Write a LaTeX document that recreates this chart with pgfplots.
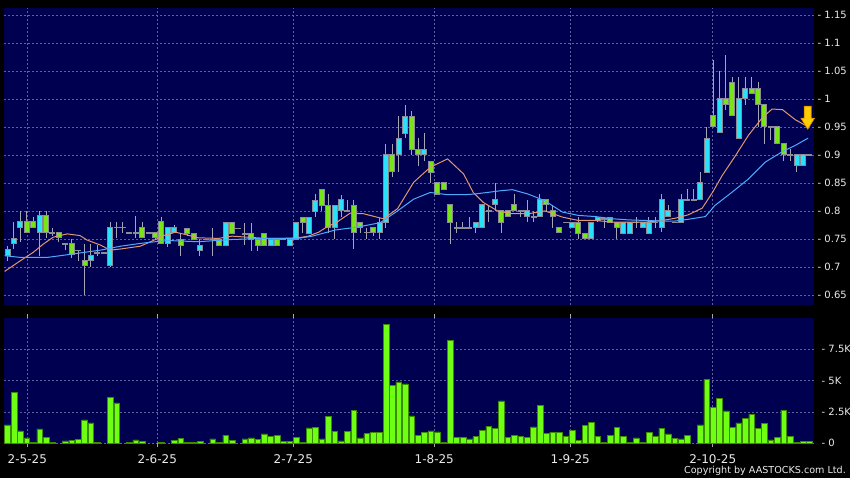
\documentclass[border=0pt]{standalone}
\usepackage{fontspec}
\setmainfont{DejaVu Sans}
\usepackage{pgfplots}
\usepackage{pgfplotstable}
\pgfplotsset{compat=1.18}
\definecolor{navybg}{RGB}{0,0,80}
\definecolor{gridc}{RGB}{95,95,155}
\definecolor{upc}{RGB}{40,225,250}
\definecolor{downc}{RGB}{120,230,20}
\definecolor{outl}{RGB}{140,140,150}
\definecolor{wick}{RGB}{165,165,180}
\definecolor{volc}{RGB}{110,255,20}
\definecolor{vold}{RGB}{60,140,0}
\definecolor{maorange}{RGB}{225,150,110}
\definecolor{mablue}{RGB}{80,170,250}
\definecolor{arrowy}{RGB}{255,205,0}
\definecolor{arrowo}{RGB}{220,140,0}
\definecolor{labc}{RGB}{235,235,235}

\pgfdeclareplotmark{dnarrow}{%
  \pgfpathmoveto{\pgfpoint{0pt}{0pt}}%
  \pgfpathlineto{\pgfpoint{6.8pt}{11pt}}%
  \pgfpathlineto{\pgfpoint{3.5pt}{11pt}}%
  \pgfpathlineto{\pgfpoint{3.5pt}{23pt}}%
  \pgfpathlineto{\pgfpoint{-3.5pt}{23pt}}%
  \pgfpathlineto{\pgfpoint{-3.5pt}{11pt}}%
  \pgfpathlineto{\pgfpoint{-6.8pt}{11pt}}%
  \pgfpathclose
  \pgfusepathqfillstroke
}

% up candles (close > open)
\pgfplotstableread{
i o h l c
0 0.721 0.738 0.710 0.732
1 0.741 0.780 0.732 0.751
2 0.771 0.800 0.745 0.781
5 0.761 0.800 0.720 0.791
13 0.711 0.741 0.700 0.721
16 0.702 0.780 0.700 0.771
25 0.741 0.771 0.735 0.771
26 0.761 0.775 0.760 0.771
30 0.729 0.749 0.719 0.739
34 0.739 0.779 0.739 0.779
41 0.739 0.749 0.739 0.749
44 0.739 0.749 0.739 0.749
45 0.749 0.779 0.749 0.779
47 0.760 0.789 0.760 0.789
48 0.799 0.830 0.789 0.819
51 0.771 0.810 0.750 0.810
52 0.800 0.828 0.790 0.820
58 0.761 0.787 0.750 0.780
59 0.780 0.920 0.770 0.900
61 0.900 0.970 0.870 0.930
62 0.939 0.989 0.930 0.969
65 0.900 0.940 0.890 0.910
73 0.770 0.780 0.760 0.780
74 0.770 0.811 0.770 0.811
76 0.811 0.850 0.800 0.820
81 0.790 0.820 0.780 0.800
83 0.790 0.830 0.790 0.820
88 0.770 0.780 0.770 0.780
91 0.750 0.780 0.750 0.780
92 0.783 0.790 0.780 0.789
96 0.760 0.780 0.760 0.780
97 0.760 0.780 0.760 0.780
99 0.770 0.780 0.770 0.780
100 0.760 0.790 0.760 0.780
102 0.771 0.830 0.762 0.820
103 0.790 0.810 0.790 0.800
105 0.780 0.830 0.780 0.820
108 0.820 0.870 0.820 0.850
109 0.869 0.950 0.869 0.930
111 0.940 1.050 0.940 1.000
114 0.930 1.040 0.930 1.000
115 1.000 1.040 0.990 1.019
123 0.881 0.900 0.870 0.900
124 0.881 0.900 0.881 0.900
}\up

% down candles (close < open)
\pgfplotstableread{
i o h l c
3 0.781 0.800 0.760 0.761
4 0.781 0.790 0.771 0.771
6 0.791 0.800 0.752 0.761
8 0.761 0.761 0.745 0.752
10 0.741 0.750 0.716 0.722
12 0.711 0.741 0.650 0.702
21 0.771 0.780 0.752 0.752
23 0.761 0.761 0.750 0.752
24 0.781 0.790 0.741 0.741
27 0.749 0.760 0.720 0.739
28 0.769 0.769 0.755 0.760
29 0.759 0.760 0.749 0.749
33 0.749 0.749 0.739 0.739
35 0.779 0.779 0.760 0.760
38 0.759 0.779 0.729 0.749
39 0.749 0.749 0.729 0.739
40 0.759 0.759 0.739 0.739
42 0.749 0.749 0.739 0.739
46 0.789 0.789 0.760 0.779
49 0.839 0.839 0.800 0.810
50 0.810 0.830 0.760 0.770
54 0.810 0.820 0.732 0.762
55 0.780 0.780 0.760 0.770
57 0.770 0.770 0.755 0.761
60 0.900 0.920 0.860 0.870
63 0.969 0.979 0.900 0.910
64 0.910 0.930 0.880 0.900
66 0.888 0.890 0.850 0.869
67 0.850 0.850 0.830 0.830
68 0.850 0.850 0.839 0.839
69 0.811 0.811 0.741 0.780
77 0.800 0.800 0.760 0.780
78 0.800 0.800 0.790 0.790
79 0.811 0.830 0.800 0.800
84 0.820 0.820 0.800 0.811
85 0.800 0.810 0.770 0.790
86 0.770 0.770 0.761 0.761
89 0.780 0.790 0.750 0.760
90 0.760 0.760 0.750 0.750
94 0.789 0.790 0.780 0.780
95 0.780 0.780 0.750 0.770
110 0.970 1.070 0.950 0.950
112 1.000 1.078 0.980 0.990
113 1.029 1.040 0.970 0.970
116 1.019 1.040 1.010 1.010
117 1.019 1.030 0.950 0.990
118 0.990 0.990 0.920 0.950
120 0.950 0.950 0.920 0.920
121 0.920 0.920 0.890 0.900
}\down

% flat candles (close = open)
\pgfplotstableread{
i o h l c
7 0.761 0.770 0.755 0.761
9 0.741 0.741 0.730 0.741
11 0.730 0.730 0.710 0.730
14 0.725 0.740 0.720 0.725
15 0.725 0.725 0.725 0.725
17 0.771 0.780 0.752 0.771
18 0.771 0.780 0.760 0.771
19 0.761 0.761 0.761 0.761
20 0.761 0.791 0.752 0.761
22 0.761 0.761 0.761 0.761
31 0.749 0.749 0.749 0.749
32 0.749 0.769 0.719 0.749
36 0.769 0.769 0.769 0.769
37 0.759 0.779 0.739 0.759
43 0.749 0.749 0.749 0.749
53 0.800 0.820 0.800 0.800
56 0.762 0.770 0.750 0.762
70 0.770 0.780 0.760 0.770
71 0.770 0.780 0.770 0.770
72 0.770 0.790 0.770 0.770
75 0.800 0.811 0.780 0.800
80 0.800 0.800 0.790 0.800
82 0.790 0.800 0.780 0.790
87 0.780 0.780 0.780 0.780
93 0.786 0.790 0.770 0.786
98 0.780 0.790 0.770 0.780
101 0.780 0.790 0.770 0.780
104 0.780 0.780 0.780 0.780
106 0.820 0.840 0.820 0.820
107 0.820 0.840 0.820 0.820
119 0.950 0.950 0.927 0.950
122 0.900 0.910 0.890 0.900
125 0.900 0.900 0.900 0.900
}\flat

% volume in thousands
\pgfplotstableread{
i v
0 1.46
1 4.04
2 0.98
3 0.43
4 0.08
5 1.14
6 0.50
7 0.08
9 0.19
10 0.21
11 0.32
12 1.86
13 1.62
14 0.08
16 3.64
17 3.22
19 0.05
20 0.27
21 0.13
24 0.05
26 0.21
27 0.37
28 0.08
29 0.08
30 0.16
32 0.35
33 0.10
34 0.66
35 0.24
37 0.35
38 0.43
39 0.29
40 0.74
41 0.53
42 0.64
43 0.16
44 0.13
45 0.50
46 0.10
47 1.22
48 1.28
49 0.35
50 2.15
51 0.96
52 0.19
53 0.96
54 2.63
55 0.43
56 0.77
57 0.88
58 0.85
59 9.44
60 4.63
61 4.89
62 4.73
63 2.18
64 0.64
65 0.85
66 0.98
67 0.90
68 0.10
69 8.16
70 0.50
71 0.48
72 0.35
73 0.53
74 1.01
75 1.36
76 1.17
77 3.38
78 0.48
79 0.61
80 0.58
81 0.50
82 1.30
83 3.03
84 0.77
85 0.88
86 0.85
87 0.58
88 1.01
89 0.24
90 1.44
91 1.68
92 0.53
93 0.05
94 0.66
95 1.28
96 0.53
97 0.08
98 0.43
99 0.05
100 0.88
101 0.58
102 1.20
103 0.74
104 0.40
105 0.35
106 0.64
108 1.46
109 5.08
110 2.87
111 3.59
112 2.58
113 1.28
114 1.63
115 1.97
116 2.31
117 1.17
118 1.57
119 0.27
120 0.45
121 2.63
122 0.56
123 0.08
124 0.16
125 0.16
}\vol

\pgfplotsset{
  wicks/.style={draw=none, mark=none, forget plot,
    error bars/.cd, y dir=both, y explicit, error mark=none,
    error bar style={draw=wick, line width=1pt}},
  bodyout/.style={draw=none, mark=none, forget plot,
    error bars/.cd, y dir=both, y explicit, error mark=none,
    error bar style={draw=outl, line width=6pt}},
  bodyin/.style={draw=none, mark=none, forget plot,
    error bars/.cd, y dir=both, y explicit, error mark=none,
    error bar style={draw=#1, line width=4pt}},
  panel/.style={scale only axis, axis background/.style={fill=navybg},
    axis line style={draw=none},
    xmin=-0.55, xmax=125.65,
    xtick={3.09,23.35,44.55,66.53,87.73,109.94},
    grid=major,
    major grid style={draw=gridc, line width=0.6pt, dash pattern=on 2pt off 2pt},
    yticklabel pos=right,
    yticklabel style={anchor=west, inner sep=0pt, xshift=4pt,
      font=\fontsize{10}{12}\selectfont, text=labc},
    ytick style={draw=none}},
}

\begin{document}
\begin{tikzpicture}[x=1pt,y=1pt]
\useasboundingbox (0,0) rectangle (850,478);
\fill[black] (0,0) rectangle (850,478);

\begin{axis}[panel,
  at={(4pt,173pt)}, anchor=south west,
  width=809.5pt, height=297pt,
  ymin=0.632, ymax=1.1625,
  xticklabels={}, xtick style={draw=none},
  ytick={0.65,0.7,0.75,0.8,0.85,0.9,0.95,1,1.05,1.1,1.15},
  yticklabels={- 0.65,- 0.7,- 0.75,- 0.8,- 0.85,- 0.9,- 0.95,- 1,- 1.05,- 1.1,- 1.15},
  clip=false]
% wicks
\addplot[wicks] table[x=i, y expr={(\thisrow{h}+\thisrow{l})/2}, y error expr={(\thisrow{h}-\thisrow{l})/2}] {\up};
\addplot[wicks] table[x=i, y expr={(\thisrow{h}+\thisrow{l})/2}, y error expr={(\thisrow{h}-\thisrow{l})/2}] {\down};
\addplot[wicks] table[x=i, y expr={(\thisrow{h}+\thisrow{l})/2}, y error expr={(\thisrow{h}-\thisrow{l})/2}] {\flat};
% body outlines
\addplot[bodyout] table[x=i, y expr={(\thisrow{o}+\thisrow{c})/2}, y error expr={abs(\thisrow{c}-\thisrow{o})/2+0.0009}] {\up};
\addplot[bodyout] table[x=i, y expr={(\thisrow{o}+\thisrow{c})/2}, y error expr={abs(\thisrow{c}-\thisrow{o})/2+0.0009}] {\down};
\addplot[bodyout] table[x=i, y expr={(\thisrow{o}+\thisrow{c})/2}, y error expr={0.0009}] {\flat};
% body fills
\addplot[bodyin=upc] table[x=i, y expr={(\thisrow{o}+\thisrow{c})/2}, y error expr={abs(\thisrow{c}-\thisrow{o})/2-0.0009}] {\up};
\addplot[bodyin=downc] table[x=i, y expr={(\thisrow{o}+\thisrow{c})/2}, y error expr={abs(\thisrow{c}-\thisrow{o})/2-0.0009}] {\down};
% moving averages
\addplot[maorange, line width=1pt, mark=none] coordinates {
(-0.45,0.692) (2.0,0.711) (4.0,0.726) (5.6,0.741) (7.1,0.753) (9.3,0.759) (11.3,0.756) (12.4,0.748) (14.5,0.739) (16.0,0.730) (17.6,0.732) (20.7,0.737) (22.7,0.747) (24.3,0.756) (26.2,0.762) (27.7,0.758) (29.7,0.752) (32.9,0.751) (35.0,0.755) (37.5,0.753) (40.2,0.751) (42.8,0.751) (45.3,0.752) (46.9,0.755) (48.5,0.762) (50.0,0.773) (51.1,0.778) (53.4,0.796) (55.5,0.795) (58.6,0.786) (60.8,0.804) (63.3,0.851) (65.9,0.878) (68.6,0.893) (71.1,0.866) (72.6,0.833) (74.2,0.815) (76.4,0.800) (78.7,0.795) (81.2,0.795) (83.8,0.800) (86.5,0.789) (89.0,0.783) (91.6,0.783) (94.3,0.780) (96.8,0.780) (99.4,0.780) (102.1,0.783) (104.1,0.787) (106.1,0.793) (108.3,0.805) (109.9,0.833) (111.4,0.863) (113.5,0.899) (115.5,0.935) (117.7,0.967) (119.2,0.982) (120.8,0.981) (122.8,0.963) (124.7,0.951)
};
\addplot[mablue, line width=1pt, mark=none] coordinates {
(-0.45,0.720) (2.0,0.717) (6.2,0.717) (8.2,0.720) (11.3,0.725) (14.5,0.730) (17.6,0.737) (20.7,0.742) (23.8,0.746) (25.4,0.747) (29.7,0.745) (35.0,0.749) (40.2,0.751) (45.3,0.751) (47.5,0.755) (49.5,0.761) (51.1,0.766) (54.5,0.771) (58.1,0.779) (60.8,0.800) (63.3,0.821) (65.9,0.833) (68.6,0.829) (71.1,0.829) (72.6,0.830) (74.8,0.833) (76.8,0.836) (78.7,0.838) (81.2,0.830) (83.8,0.818) (86.5,0.798) (89.0,0.792) (91.6,0.790) (94.3,0.786) (96.8,0.784) (99.4,0.783) (102.1,0.782) (104.1,0.782) (106.1,0.785) (108.8,0.790) (110.3,0.810) (112.9,0.833) (115.5,0.857) (118.1,0.887) (120.8,0.906) (122.8,0.917) (124.8,0.930)
};
% marker arrow
\addplot[only marks, mark=dnarrow, mark options={fill=arrowy, draw=arrowo, line width=0.6pt}] coordinates {(124.75,0.946)};
\end{axis}

\begin{axis}[panel,
  at={(4pt,34.7pt)}, anchor=south west,
  width=809.5pt, height=125.3pt,
  ymin=0, ymax=9.97,
  xticklabels={2-5-25,2-6-25,2-7-25,1-8-25,1-9-25,2-10-25},
  xticklabel style={anchor=north, inner sep=0pt, yshift=-7pt,
    font=\fontsize{12}{14}\selectfont, text=labc},
  xtick style={draw=wick, line width=0.8pt},
  tick align=outside, major tick length=4pt,
  ytick={0,2.5,5,7.5},
  yticklabels={- 0,- 2.5K,- 5K,- 7.5K}]
\addplot[ybar, bar width=0.88, fill=volc, draw=vold, line width=0.5pt] table[x=i, y=v] {\vol};
\end{axis}

\node[anchor=base east, text=labc, font=\fontsize{9.6}{11}\selectfont, inner sep=0pt] at (846,4.3) {Copyright by AASTOCKS.com Ltd.};
\end{tikzpicture}
\end{document}
